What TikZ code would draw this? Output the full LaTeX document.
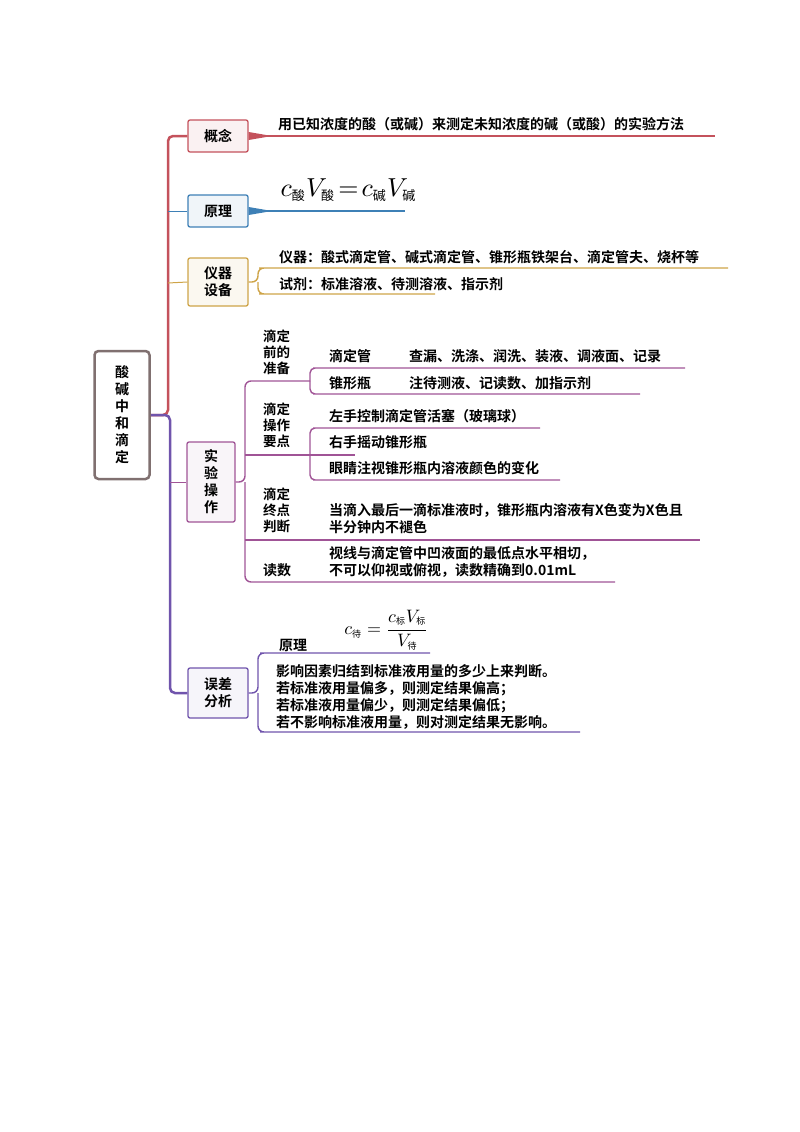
\documentclass[tikz,border=0pt]{standalone}
\usepackage{amsmath}
\usepackage{fontspec}
\newfontfamily\cjk{Noto Sans CJK SC}[BoldFont={Noto Sans CJK SC Bold}]
\usetikzlibrary{positioning}
\definecolor{cred}{RGB}{196,82,92}
\definecolor{cblue}{RGB}{62,128,182}
\definecolor{cgold}{RGB}{206,164,72}
\definecolor{cpurp}{RGB}{160,84,150}
\definecolor{cviol}{RGB}{112,84,172}
\definecolor{cgray}{RGB}{128,112,112}
\newcommand{\zi}[1]{_{\mbox{\fontsize{5}{6}\cjk #1}}}

\begin{document}
\begin{tikzpicture}[x=1pt, y=-1pt,
txt/.style={anchor=west, font=\fontsize{14}{17}\cjk\bfseries, inner sep=1pt, align=left},
box/.style={rectangle, rounded corners=2pt, line width=1.3pt, font=\fontsize{14}{17}\cjk\bfseries,
  align=center, inner sep=2pt},
line/.style={line width=1.4pt},
wedge/.style={fill}
]
\useasboundingbox (0,0) rectangle (800,1132);

% root
\node [box, draw=cgray, line width=2.5pt, minimum width=55pt, minimum height=128pt, rounded corners=4pt]
  (root) at (122,415) {酸\\碱\\中\\和\\滴\\定};

% level one
\node [box, draw=cred, fill=cred!8, minimum width=60pt, minimum height=32pt] (gn) at (218,136) {概念};
\node [box, draw=cblue, fill=cblue!8, minimum width=60pt, minimum height=32pt] (yl) at (218,211) {原理};
\node [box, draw=cgold, fill=cgold!8, minimum width=60pt, minimum height=48pt] (yq) at (218,282) {仪器\\设备};
\node [box, draw=cpurp, fill=cpurp!6, minimum width=48pt, minimum height=80pt] (sy) at (211,482) {实\\验\\操\\作};
\node [box, draw=cviol, fill=cviol!6, minimum width=60pt, minimum height=50pt] (wc) at (218,693) {误差\\分析};

% trunk
\draw [cred, line width=2.5pt, rounded corners=5pt] (root.east) -- (168,415) -- (168,136) -- (gn.west);
\draw [cblue, line width=1pt] (168,211) -- (yl.west);
\draw [cgold, line width=1pt] (168,283) -- (yq.west);
\draw [cviol, line width=2.5pt, rounded corners=5pt] (root.east) -- (170,415) -- (170,693) -- (wc.west);
\draw [cpurp, line width=1pt] (170,482) -- (sy.west);

% 概念, 原理
\draw [cred, line] (gn.east) -- (715,136);
\fill [cred] ([yshift=-4pt]gn.east) -- (272,136) -- ([yshift=4pt]gn.east) -- cycle;
\node [txt] (gnt) at (277,124) {用已知浓度的酸（或碱）来测定未知浓度的碱（或酸）的实验方法};
\draw [cblue, line] (yl.east) -- (405,211);
\fill [cblue] ([yshift=-4pt]yl.east) -- (272,211) -- ([yshift=4pt]yl.east) -- cycle;
\node [anchor=west, inner sep=0pt, scale=2.6, transform shape] (ylt) at (280,190)
  {$c\zi{酸}V\zi{酸}\!=\!c\zi{碱}V\zi{碱}$};

% 仪器设备
\draw [cgold, line, rounded corners=6pt] (yq.east) -- (258,282) -- (258,268) -- (265,268) -- (728,268);
\draw [cgold, line, rounded corners=6pt] (258,282) -- (258,294) -- (265,294) -- (435,294);
\node [txt] (yq1) at (278,257) {仪器：酸式滴定管、碱式滴定管、锥形瓶铁架台、滴定管夫、烧杯等};
\node [txt] (yq2) at (278,284) {试剂：标准溶液、待测溶液、指示剂};

% 实验操作
\draw [cpurp, line, rounded corners=6pt] (sy.east) -- (245,482) -- (245,381) -- (310,381);
\draw [cpurp, line, rounded corners=6pt] (245,482) -- (245,582) -- (615,582);
\draw [cpurp, line] (245,455) -- (310,455);
\draw [cpurp, line] (245,540) -- (700,540);
\node [txt, font=\fontsize{13.5}{16}\cjk\bfseries] (qian) at (262,352) {滴定\\前的\\准备};
\node [txt, font=\fontsize{13.5}{16}\cjk\bfseries] (cz) at (262,425) {滴定\\操作\\要点};
\node [txt, font=\fontsize{13.5}{16}\cjk\bfseries] (zd) at (262,510) {滴定\\终点\\判断};
\node [txt] (ds) at (262,570) {读数};

\draw [cpurp, line, rounded corners=5pt] (310,381) -- (310,368) -- (318,368) -- (685,368);
\draw [cpurp, line, rounded corners=5pt] (310,381) -- (310,394) -- (318,394) -- (640,394);
\node [txt] (ddg) at (328,356) {滴定管};
\node [txt] (ddgt) at (408,356) {查漏、洗涤、润洗、装液、调液面、记录};
\node [txt] (zxp) at (328,383) {锥形瓶};
\node [txt] (zxpt) at (408,383) {注待测液、记读数、加指示剂};

\draw [cpurp, line, rounded corners=5pt] (310,455) -- (310,428) -- (318,428) -- (540,428);
\draw [cpurp, line] (310,455) -- (355,455);
\draw [cpurp, line, rounded corners=5pt] (310,455) -- (310,480) -- (318,480) -- (560,480);
\node [txt] (cz1) at (328,416) {左手控制滴定管活塞（玻璃球）};
\node [txt] (cz2) at (328,442) {右手摇动锥形瓶};
\node [txt] (cz3) at (328,468) {眼睛注视锥形瓶内溶液颜色的变化};
\node [txt] (zdt) at (328,519) {当滴入最后一滴标准液时，锥形瓶内溶液有X色变为X色且\\半分钟内不褪色};
\node [txt] (dst) at (328,562) {视线与滴定管中凹液面的最低点水平相切，\\不可以仰视或俯视，读数精确到0.01mL};

% 误差分析
\draw [cviol, line, rounded corners=6pt] (wc.east) -- (258,693) -- (258,653) -- (266,653) -- (430,653);
\draw [cviol, line, rounded corners=6pt] (258,693) -- (258,732) -- (266,732) -- (580,732);
\node [txt] (wcy) at (278,645) {原理};
\node [anchor=west, inner sep=0pt, scale=1.8, transform shape] (wcf) at (344,630)
  {$c\zi{待}=\dfrac{c\zi{标}V\zi{标}}{V\zi{待}}$};
\node [txt, font=\fontsize{14}{16.7}\cjk\bfseries] (wct) at (275,697) {影响因素归结到标准液用量的多少上来判断。\\若标准液用量偏多，则测定结果偏高；\\若标准液用量偏少，则测定结果偏低；\\若不影响标准液用量，则对测定结果无影响。};
\end{tikzpicture}
\end{document}
